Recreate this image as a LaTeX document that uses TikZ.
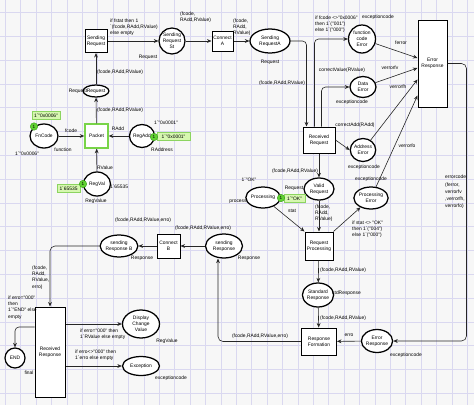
\documentclass[tikz,border=0pt]{standalone}
\usepackage{fontspec}
\newfontfamily\labfont{Liberation Sans}
\usetikzlibrary{shapes.geometric,arrows.meta}
\definecolor{paper}{RGB}{247,247,247}
\definecolor{gridcol}{RGB}{218,216,240}
\definecolor{tokgreen}{RGB}{96,210,50}
\definecolor{tokdark}{RGB}{60,160,30}
\definecolor{markfill}{RGB}{214,247,176}
\definecolor{markedge}{RGB}{140,212,96}
\definecolor{packedge}{RGB}{120,212,72}
\begin{document}
\begin{tikzpicture}[x=1pt,y=-1pt,
  every node/.style={font=\labfont\fontsize{4.9}{6.2}\selectfont, inner sep=0pt, align=center},
  place/.style={ellipse, draw=black, line width=1.25pt, fill=white},
  trans/.style={rectangle, draw=black, line width=1pt, fill=white},
  arc/.style={-{Stealth[length=4.5pt,width=3.8pt]}, line width=0.6pt, draw=black!85},
  lab/.style={align=left, anchor=west},
  gridline/.style={draw=gridcol, line width=0.6pt},
  token/.style={circle, fill=tokgreen, draw=tokdark, line width=0.4pt, minimum size=7.5pt, font=\labfont\fontsize{4.6}{5}\selectfont},
  markbox/.style={rectangle, fill=markfill, draw=markedge, line width=0.5pt, minimum height=8pt}
]
\useasboundingbox (0,0) rectangle (474,405);
\fill[paper] (0,0) rectangle (474,405);
% background grid
\foreach \i in {0,...,30} { \draw[gridline] (5.3+\i*15.4,0) -- (5.3+\i*15.4,405); }
\foreach \j in {0,...,16} { \draw[gridline] (0,12.4+\j*23.8) -- (474,12.4+\j*23.8); }

% ---------- places ----------
\node[place, minimum width=28pt, minimum height=24pt] (fn) at (44,136) {FnCode};
\node[place, minimum width=22pt, minimum height=23pt] (regadd) at (142,136) {RegAdd};
\node[place, minimum width=27pt, minimum height=24pt] (regval) at (97,184) {RegVal};
\node[place, minimum width=23pt, minimum height=12pt] (req) at (96,91) {Request};
\node[place, minimum width=26pt, minimum height=26pt] (srst) at (172,41) {Sending\\Request\\St};
\node[place, minimum width=40pt, minimum height=24pt] (sra) at (270,41) {Sending\\RequestA};
\node[place, minimum width=27pt, minimum height=28pt] (fce) at (362,39) {function\\code\\Error};
\node[place, minimum width=26pt, minimum height=21pt] (de) at (363,87) {Data\\Error};
\node[place, minimum width=24pt, minimum height=23pt] (ae) at (363,150) {Address\\Error};
\node[place, minimum width=30pt, minimum height=22pt] (vr) at (319,189) {Valid\\Request};
\node[place, minimum width=31pt, minimum height=21pt] (proc) at (263,197.5) {Processing};
\node[place, minimum width=34pt, minimum height=22pt] (pe) at (371,198) {Processing\\Error};
\node[place, minimum width=28pt, minimum height=24pt] (stdr) at (318,295) {Standard\\Response};
\node[place, minimum width=30pt, minimum height=23pt] (erp) at (377,341) {Error\\Response};
\node[place, minimum width=37pt, minimum height=24pt] (sresp) at (224,246) {sending\\Response};
\node[place, minimum width=35pt, minimum height=22pt] (srb) at (119,246) {sending\\Response B};
\node[place, minimum width=37pt, minimum height=28pt] (dcv) at (141,324) {Display\\Change\\Value};
\node[place, minimum width=37pt, minimum height=19pt] (exc) at (141,366) {Exception};
\node[place, minimum width=20pt, minimum height=20pt] (endp) at (15,358) {END};

% ---------- transitions ----------
\node[trans, minimum width=22pt, minimum height=23pt] (sreq) at (96,41) {Sending\\Request};
\node[trans, draw=packedge, line width=1.5pt, minimum width=23pt, minimum height=24pt] (packet) at (96.5,136) {Packet};
\node[trans, minimum width=21pt, minimum height=20pt] (ca) at (222.5,41) {Connect\\A};
\node[trans, minimum width=32pt, minimum height=26pt] (rr) at (319,140) {Received\\Request};
\node[trans, minimum width=29pt, minimum height=87pt] (er) at (432.5,63.5) {Error\\Response};
\node[trans, minimum width=28pt, minimum height=28pt] (rp) at (319,246) {Request\\Processing};
\node[trans, minimum width=35pt, minimum height=27pt] (rf) at (319,341.5) {Response\\Formation};
\node[trans, minimum width=23pt, minimum height=24pt] (cb) at (168.5,246) {Connect\\B};
\node[trans, minimum width=30pt, minimum height=90pt] (rresp) at (50,352) {Received\\Response};

% ---------- initial markings ----------
\node[markbox, minimum width=28pt] (m1) at (46,115.5) {1`"0x0006"};
\node[token] (t1) at (34,126.5) {1};
\node[markbox, minimum width=33pt] (m2) at (173.5,136.5) {1`"0x0001"};
\node[token] (t2) at (154,137) {1};
\node[markbox, minimum width=23pt] (m3) at (68.5,188.5) {1`65535};
\node[token] (t3) at (83,184) {1};
\node[markbox, minimum width=21pt] (m4) at (294.5,198.5) {1`"OK"};
\node[token] (t4) at (281,198) {1};

% ---------- arcs ----------
\draw[arc] (fn) -- (packet);
\draw[arc] (regadd) -- (packet);
\draw[arc] (regval) -- (packet);
\draw[arc] (packet) -- (req);
\draw[arc] (req) -- (sreq);
\draw[arc] (sreq) -- (srst);
\draw[arc] (srst) -- (ca);
\draw[arc] (ca) -- (sra);
\draw[arc, rounded corners=4pt] (sra.east) -| ([xshift=-12.5pt]rr.north);
\draw[arc, rounded corners=4pt] ([xshift=-4.5pt]rr.north) |- (fce.west);
\draw[arc, rounded corners=4pt] ([xshift=2.5pt]rr.north) |- (de.west);
\draw[arc] (rr.east) -- (ae.west);
\draw[arc] (rr) -- (vr);
\draw[arc] (fce) -- ([yshift=5.5pt]er.west);
\draw[arc] (de) -- ([yshift=-4.5pt]er.west);
\draw[arc] (ae) -- ([yshift=-16pt]er.west);
\draw[arc] (pe) -- ([yshift=-32pt]er.west);
\draw[arc] (vr) -- (rp);
\draw[arc] (proc) -- (rp.north west);
\draw[arc] (rp.north east) -- (pe);
\draw[arc] (rp) -- (stdr);
\draw[arc] (stdr) -- (rf);
\draw[arc, rounded corners=5pt] (er.east) -- ++(19,0) |- (erp.east);
\draw[arc] (erp) -- (rf);
\draw[arc, rounded corners=5pt] (rf.west) -| ([xshift=-6pt]sresp.south);
\draw[arc] (sresp) -- (cb);
\draw[arc] (cb) -- (srb);
\draw[arc, rounded corners=5pt] (srb.west) -| (rresp.north);
\draw[arc, rounded corners=4pt] ([yshift=25pt]rresp.west) -| (endp.north);
\draw[arc] ([yshift=28pt]rresp.east) -- (dcv.west);
\draw[arc] ([yshift=-14pt]rresp.east) -- (exc.west);

% ---------- inscriptions ----------
\node (l1) at (120,72) {(fcode,RAdd,RValue)};
\node (l2) at (120,110) {(fcode,RAdd,RValue)};
\node (l3) at (78,91) {Request};
\node (l4) at (71,131) {fcode};
\node (l5) at (118,129) {RAdd};
\node (l6) at (105,168) {RValue};
\node (l7) at (63,150) {function};
\node (l8) at (27,154) {1`"0x0006"};
\node (l9) at (166,123) {1`"0x0001"};
\node (l10) at (162,150) {RAddress};
\node (l11) at (119,187) {1`65535};
\node (l12) at (96,201) {RegValue};
\node[lab] (l13) at (110,27.5) {if fstat then 1\\`(fcode,RAdd,RValue)\\else empty};
\node (l14) at (148,57) {Request};
\node[lab] (l15) at (180,17.5) {(fcode,\\RAdd,RValue)};
\node[lab] (l16) at (233,27.5) {(fcode,\\RAdd,\\RValue)};
\node (l17) at (270,62) {Request};
\node (l18) at (282,83) {(fcode,RAdd,RValue)};
\node[lab] (l19) at (315,24) {if fcode <>"0x0006"\\then 1`("001")\\else 1`("000")};
\node (l20) at (378,17) {exceptioncode};
\node (l21) at (401,43) {ferror};
\node (l22) at (342,70) {correctValue(RValue)};
\node (l23) at (390,68) {verrorfv};
\node (l24) at (398,87) {verrorfh};
\node (l25) at (352,102) {exceptioncode};
\node (l26) at (355,125) {correctAdd(RAdd)};
\node (l27) at (364,167) {exceptioncode};
\node (l28) at (407,146) {verrorfo};
\node (l29) at (371,179) {exceptioncode};
\node[lab, font=\labfont\fontsize{4.9}{7.2}\selectfont] (l30) at (445,192) {errorcode\\(ferror,\\verrorfv\\,verrorfh,\\verrorfo)};
\node (l31) at (295,171) {(fcode,RAdd,RValue)};
\node (l32) at (294,188) {Request};
\node (l33) at (249,180) {1`"OK"};
\node (l34) at (238,202) {process};
\node (l35) at (292,211) {stat};
\node[lab] (l36) at (315,213) {(fcode,\\RAdd,\\RValue)};
\node[lab] (l37) at (352,229) {if stat <> "OK"\\then 1`("004")\\else 1`("000")};
\node[lab] (l38) at (320,270) {(fcode,RAdd,RValue)};
\node[lab] (l39) at (332,293) {stdResponse};
\node[lab] (l40) at (320,318) {(fcode,RAdd,RValue)};
\node (l41) at (349,335) {erro};
\node (l42) at (406,355) {exceptioncode};
\node (l43) at (260,336) {(fcode,RAdd,RValue,erro)};
\node (l44) at (249,258) {Response};
\node (l45) at (203,228) {(fcode,RAdd,RValue,erro)};
\node (l46) at (143,220) {(fcode,RAdd,RValue,erro)};
\node (l47) at (142,258) {Response};
\node[lab] (l48) at (32,277.5) {(fcode,\\RAdd,\\RValue,\\erro)};
\node[lab] (l49) at (8,307.5) {if erro="000"\\then\\1`"END" else\\empty};
\node (l50) at (29,373) {final};
\node[lab] (l51) at (80,334) {if erro="000" then\\1`RValue else empty};
\node (l52) at (167,341) {RegValue};
\node[lab] (l53) at (75,355) {if erro<>"000" then\\1`erro else empty};
\node (l54) at (171,378) {exceptioncode};
\end{tikzpicture}
\end{document}
